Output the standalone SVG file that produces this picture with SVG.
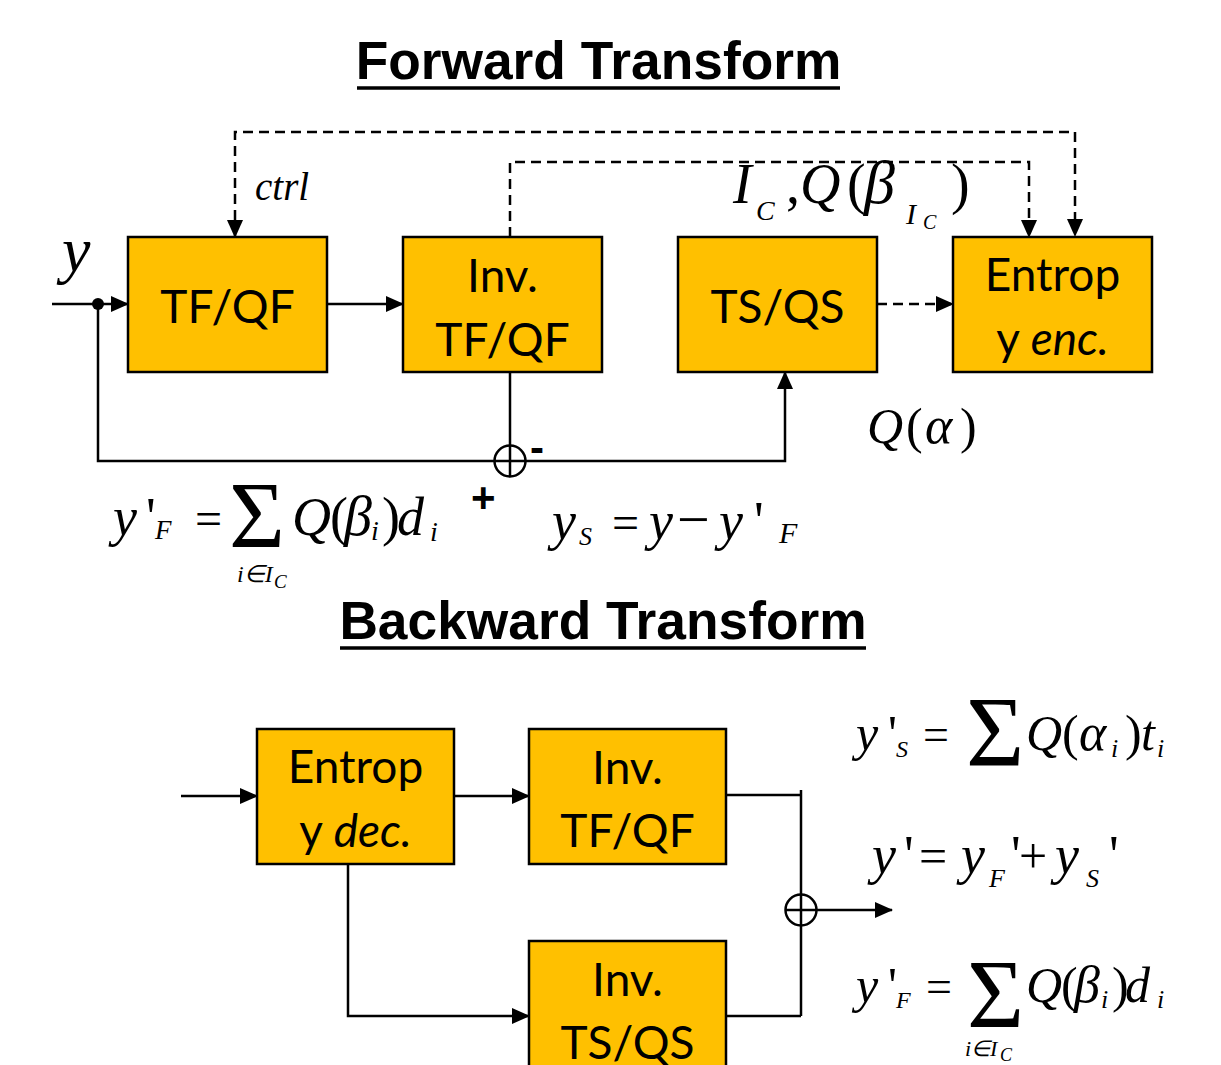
<svg xmlns="http://www.w3.org/2000/svg" width="1221" height="1065" viewBox="0 0 1221 1065">
<defs>
<style>
.box{fill:#FFC000;stroke:#000;stroke-width:2.5}
.bt{font-family:Lato,"Open Sans",sans-serif;font-size:46px;fill:#000;text-anchor:middle}
.title{font-family:"Liberation Sans",Arial,sans-serif;font-weight:bold;font-size:53.3px;text-anchor:middle;fill:#000}
.ln{fill:none;stroke:#000;stroke-width:2.5}
.dash{fill:none;stroke:#000;stroke-width:2.5;stroke-dasharray:10 6}
.m{font-family:"Liberation Serif","Times New Roman",serif;font-style:italic;fill:#000}
.u{font-family:"Liberation Serif","Times New Roman",serif;fill:#000}
.sgn{font-family:"Liberation Sans",Arial,sans-serif;font-weight:bold;font-size:42px;fill:#000}
</style>
<marker id="ah" markerUnits="userSpaceOnUse" markerWidth="18" markerHeight="16" refX="17" refY="8" orient="auto">
<path d="M0,0 L18,8 L0,16 Z" fill="#000"/>
</marker>
</defs>
<rect width="1221" height="1065" fill="#fff"/>

<!-- Titles -->
<g id="title-forward">
<text class="title" x="598.5" y="79">Forward Transform</text>
<line x1="357" y1="88" x2="840" y2="88" stroke="#000" stroke-width="3.5"/>
</g>
<g id="title-backward">
<text class="title" x="603" y="639">Backward Transform</text>
<line x1="340" y1="648" x2="866" y2="648" stroke="#000" stroke-width="3.5"/>
</g>

<!-- Connectors -->
<g id="connectors">
<!-- forward -->
<line class="ln" x1="52" y1="304" x2="128" y2="304" marker-end="url(#ah)"/>
<circle cx="98" cy="304" r="6" fill="#000"/>
<polyline class="ln" points="98,304 98,461 785,461 785,372" marker-end="url(#ah)"/>
<line class="ln" x1="327" y1="304" x2="403" y2="304" marker-end="url(#ah)"/>
<line class="ln" x1="510" y1="372" x2="510" y2="477"/>
<circle class="ln" cx="510" cy="461" r="15.5"/>
<line class="dash" x1="877" y1="304" x2="953" y2="304" marker-end="url(#ah)"/>
<polyline class="dash" points="510,237 510,162 1029,162 1029,237" marker-end="url(#ah)"/>
<polyline class="dash" points="1075,222 1075,132 235,132 235,237" marker-end="url(#ah)"/>
<path d="M1075,237 L1067,219 L1083,219 Z" fill="#000"/>
<!-- backward -->
<line class="ln" x1="181" y1="796" x2="257" y2="796" marker-end="url(#ah)"/>
<line class="ln" x1="454" y1="796" x2="529" y2="796" marker-end="url(#ah)"/>
<polyline class="ln" points="348,864 348,1016 529,1016" marker-end="url(#ah)"/>
<polyline class="ln" points="726,795 801,795"/>
<line class="ln" x1="801" y1="790" x2="801" y2="1016"/>
<polyline class="ln" points="726,1016 801,1016"/>
<line class="ln" x1="785" y1="910" x2="817" y2="910"/>
<circle class="ln" cx="801" cy="910" r="15.5"/>
<line class="ln" x1="816" y1="910" x2="892" y2="910" marker-end="url(#ah)"/>
</g>

<!-- Forward nodes -->
<g id="node-tfqf">
<rect class="box" x="128" y="237" width="199" height="135"/>
<text class="bt" x="227.5" y="323">TF/QF</text>
</g>
<g id="node-inv-tfqf">
<rect class="box" x="403" y="237" width="199" height="135"/>
<text class="bt" x="502.5" y="292">Inv.</text>
<text class="bt" x="502.5" y="356">TF/QF</text>
</g>
<g id="node-tsqs">
<rect class="box" x="678" y="237" width="199" height="135"/>
<text class="bt" x="777.5" y="323">TS/QS</text>
</g>
<g id="node-entropy-enc">
<rect class="box" x="953" y="237" width="199" height="135"/>
<text class="bt" x="1052.5" y="291">Entrop</text>
<text class="bt" x="1052.5" y="355">y <tspan font-style="italic">enc.</tspan></text>
</g>

<!-- Backward nodes -->
<g id="node-entropy-dec">
<rect class="box" x="257" y="729" width="197" height="135"/>
<text class="bt" x="355.5" y="783">Entrop</text>
<text class="bt" x="355.5" y="847">y <tspan font-style="italic">dec.</tspan></text>
</g>
<g id="node-b-inv-tfqf">
<rect class="box" x="529" y="729" width="197" height="135"/>
<text class="bt" x="627.5" y="784">Inv.</text>
<text class="bt" x="627.5" y="847">TF/QF</text>
</g>
<g id="node-b-inv-tsqs">
<rect class="box" x="529" y="941" width="197" height="140"/>
<text class="bt" x="627.5" y="996">Inv.</text>
<text class="bt" x="627.5" y="1059">TS/QS</text>
</g>

<!-- Forward labels -->
<g id="labels-forward">
<text class="m" x="62" y="271" font-size="64">y</text>
<text class="m" x="255" y="200" font-size="39">ctrl</text>
<text class="sgn" x="530" y="462">-</text>
<text class="sgn" x="471" y="512">+</text>
<!-- I_C, Q(beta_{I_C}) -->
<text class="m" x="733" y="203" font-size="56">I</text>
<text class="m" x="756" y="220" font-size="28">C</text>
<text class="u" x="786" y="203" font-size="56">,</text>
<text class="m" x="800" y="203" font-size="56">Q</text>
<text class="u" x="847" y="203" font-size="56">(</text>
<text class="m" x="864" y="203" font-size="62">β</text>
<text class="m" x="906" y="224" font-size="30">I</text>
<text class="m" x="923" y="229" font-size="20">C</text>
<text class="u" x="951" y="203" font-size="56">)</text>
<!-- Q(alpha) -->
<text class="m" x="867" y="443" font-size="50">Q</text>
<text class="u" x="906" y="443" font-size="50">(</text>
<text class="m" x="925" y="443" font-size="52">α</text>
<text class="u" x="960" y="443" font-size="50">)</text>
<!-- y'_F = sum Q(beta_i) d_i -->
<text class="m" x="113" y="535" font-size="54">y</text>
<text class="u" x="146" y="535" font-size="54">'</text>
<text class="m" x="155" y="539" font-size="27">F</text>
<text class="u" x="195" y="535" font-size="48">=</text>
<text class="u" x="229" y="548" font-size="96">Σ</text>
<text class="m" x="237" y="582" font-size="24">i∈I</text>
<text class="m" x="274" y="588" font-size="19">C</text>
<text class="m" x="292" y="535" font-size="54">Q</text>
<text class="u" x="330" y="535" font-size="54">(</text>
<text class="m" x="344" y="535" font-size="56">β</text>
<text class="m" x="371" y="540" font-size="28">i</text>
<text class="u" x="382" y="535" font-size="54">)</text>
<text class="m" x="397" y="535" font-size="54">d</text>
<text class="m" x="430" y="541" font-size="28">i</text>
<!-- y_S = y - y'_F -->
<text class="m" x="552" y="539" font-size="54">y</text>
<text class="m" x="579" y="545" font-size="26">S</text>
<text class="u" x="612" y="539" font-size="48">=</text>
<text class="m" x="649" y="539" font-size="54">y</text>
<text class="u" x="677" y="539" font-size="58">−</text>
<text class="m" x="719" y="539" font-size="54">y</text>
<text class="u" x="754" y="539" font-size="54">'</text>
<text class="m" x="779" y="543" font-size="30">F</text>
</g>

<!-- Backward labels -->
<g id="labels-backward">
<!-- y'_S = sum Q(alpha_i) t_i -->
<text class="m" x="856" y="750" font-size="50">y</text>
<text class="u" x="888" y="750" font-size="50">'</text>
<text class="m" x="896" y="757" font-size="24">S</text>
<text class="u" x="923" y="750" font-size="46">=</text>
<text class="u" x="966" y="765" font-size="100">Σ</text>
<text class="m" x="1026" y="750" font-size="50">Q</text>
<text class="u" x="1062" y="750" font-size="50">(</text>
<text class="m" x="1079" y="750" font-size="52">α</text>
<text class="m" x="1111" y="757" font-size="26">i</text>
<text class="u" x="1125" y="750" font-size="50">)</text>
<text class="m" x="1141" y="750" font-size="50">t</text>
<text class="m" x="1157" y="757" font-size="26">i</text>
<!-- y' = y_F' + y_S' -->
<text class="m" x="872" y="873" font-size="54">y</text>
<text class="u" x="904" y="873" font-size="54">'</text>
<text class="u" x="919" y="873" font-size="50">=</text>
<text class="m" x="961" y="873" font-size="54">y</text>
<text class="m" x="989" y="887" font-size="26">F</text>
<text class="u" x="1011" y="873" font-size="54">'</text>
<text class="u" x="1019" y="873" font-size="50">+</text>
<text class="m" x="1055" y="873" font-size="54">y</text>
<text class="m" x="1086" y="887" font-size="26">S</text>
<text class="u" x="1109" y="873" font-size="54">'</text>
<!-- y'_F = sum Q(beta_i) d_i -->
<text class="m" x="856" y="1002" font-size="50">y</text>
<text class="u" x="888" y="1002" font-size="50">'</text>
<text class="m" x="896" y="1008" font-size="24">F</text>
<text class="u" x="926" y="1002" font-size="46">=</text>
<text class="u" x="967" y="1027" font-size="98">Σ</text>
<text class="m" x="965" y="1056" font-size="22">i∈I</text>
<text class="m" x="1000" y="1061" font-size="18">C</text>
<text class="m" x="1026" y="1002" font-size="50">Q</text>
<text class="u" x="1061" y="1002" font-size="50">(</text>
<text class="m" x="1074" y="1002" font-size="52">β</text>
<text class="m" x="1101" y="1008" font-size="26">i</text>
<text class="u" x="1112" y="1002" font-size="50">)</text>
<text class="m" x="1125" y="1002" font-size="50">d</text>
<text class="m" x="1157" y="1008" font-size="26">i</text>
</g>
</svg>
